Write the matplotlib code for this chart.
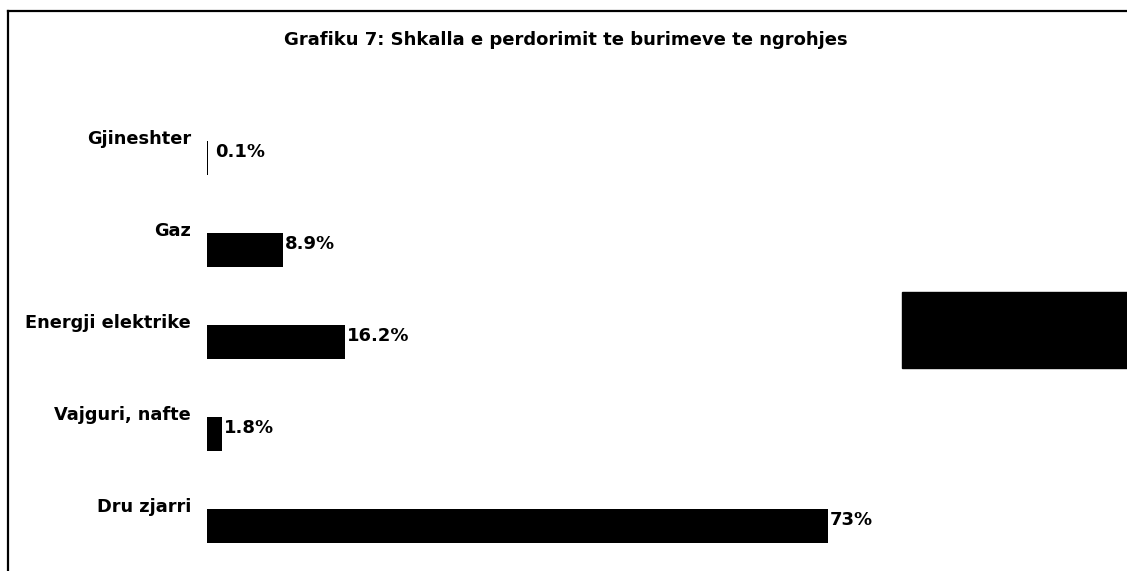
import matplotlib
matplotlib.use("Agg")
import matplotlib.pyplot as plt
from matplotlib.lines import Line2D
from matplotlib.patches import Rectangle

# data (bottom to top, as drawn)
categories = ["Dru zjarri", "Vajguri, nafte", "Energji elektrike", "Gaz", "Gjineshter"]
values = [73, 1.8, 16.2, 8.9, 0.1]
value_labels = ["73%", "1.8%", "16.2%", "8.9%", "0.1%"]
title = "Grafiku 7: Shkalla e perdorimit te burimeve te ngrohjes"

plt.rcParams["font.family"] = ["DejaVu Sans"]
plt.rcParams["font.weight"] = "bold"

W, H = 1127, 571
fig = plt.figure(figsize=(W / 100, H / 100), dpi=100)

# axes starts at bar origin and runs to the right edge
ax = fig.add_axes([207 / W, 0, 920 / W, 1])
ax.set_xlim(0, 920 / 8.507)
ax.set_ylim(-0.495, 5.72)
ax.axis("off")

ypos = list(range(len(categories)))
ax.barh(ypos, values, height=0.37, color="black", align="center")

for y, v, cat, lab in zip(ypos, values, categories, value_labels):
    ax.annotate(cat, xy=(0, y), xytext=(-16, 14), textcoords="offset pixels",
                ha="right", va="baseline", fontsize=12.8, fontweight="bold")
    ax.annotate(lab, xy=(v, y), xytext=(2 if v > 1 else 7, 1), textcoords="offset pixels",
                ha="left", va="baseline", fontsize=13, fontweight="bold")

fig.text(566 / W, 1 - 45 / H, title, ha="center", va="baseline",
         fontsize=13, fontweight="bold")

# scanned frame (top and left edges) and legend swatch at the right
fig.add_artist(Line2D([8 / W, 1], [1 - 11 / H, 1 - 11 / H], color="black", lw=1.6,
                      transform=fig.transFigure))
fig.add_artist(Line2D([8 / W, 8 / W], [0, 1 - 11 / H], color="black", lw=1.6,
                      transform=fig.transFigure))
fig.add_artist(Rectangle((902 / W, 1 - 368 / H), 225 / W, 76 / H, color="black",
                         transform=fig.transFigure))

fig.savefig("out.png", dpi=100)
